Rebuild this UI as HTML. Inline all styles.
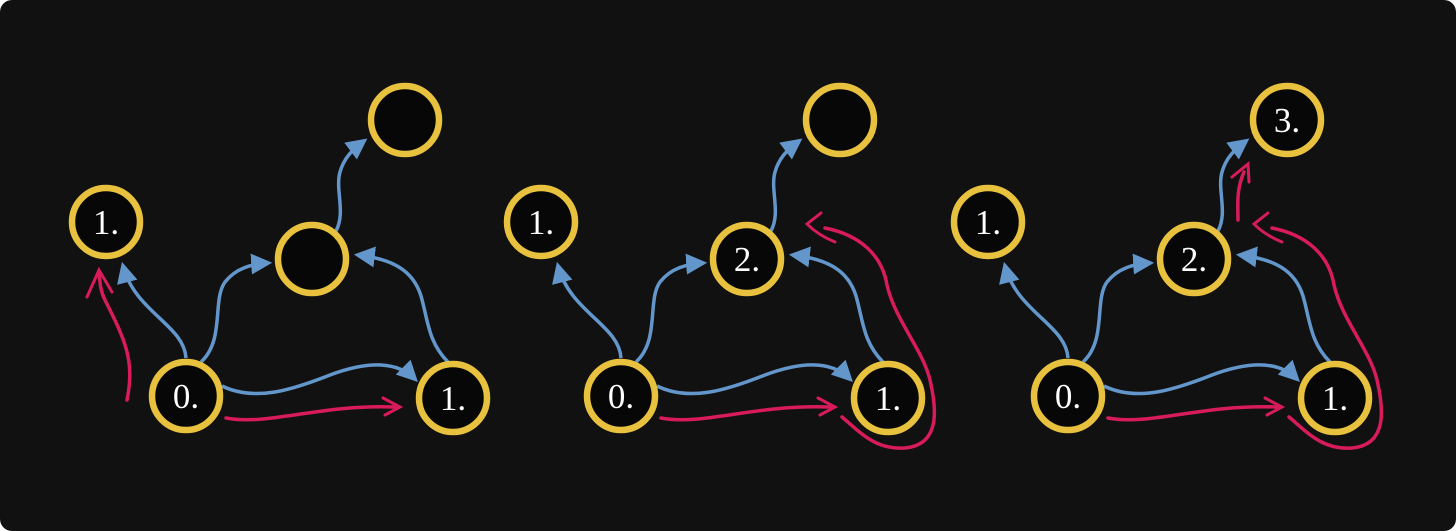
<!DOCTYPE html>
<html><head><meta charset="utf-8">
<style>
html,body{margin:0;padding:0;background:#fff;}
#wrap{width:1456px;height:531px;position:relative;overflow:hidden;}
svg{display:block;}
</style></head>
<body>
<div id="wrap">
<svg width="1456" height="531" viewBox="0 0 1456 531" xmlns="http://www.w3.org/2000/svg">
<defs>
<marker id="ah" viewBox="0 0 10 10" refX="8" refY="5" markerWidth="6" markerHeight="6" orient="auto-start-reverse" markerUnits="strokeWidth">
<path d="M0,0 L10,5 L0,10 z" fill="#6397cc"/>
</marker>
</defs>
<rect x="0" y="0" width="1456" height="531" rx="12" fill="#111111"/>

<g id="p1">
</g>
<g id="p2" transform="translate(435,0)">
</g>
<g id="p3" transform="translate(882,0)">
</g>
</svg>
</div>
<script>
const NS='http://www.w3.org/2000/svg';
const nodes=[
 {id:'left',x:106,y:222},{id:'top',x:405,y:120},{id:'mid',x:312,y:259},
 {id:'zero',x:186,y:396},{id:'right',x:453,y:398}];
const labels=[
 {left:'1.',top:'',mid:'',zero:'0.',right:'1.'},
 {left:'1.',top:'',mid:'2.',zero:'0.',right:'1.'},
 {left:'1.',top:'3.',mid:'2.',zero:'0.',right:'1.'}];
const blue=[
 ['edge-zero-left','M186,358 C184,325 135,312 123,266'],
 ['edge-zero-mid','M201,362 C225,340 212,300 225,282 C236,268 252,264 268,263'],
 ['edge-mid-top','M336,231 C346,212 335,190 340,172 C344,158 352,150 364,141'],
 ['edge-right-mid','M448,362 C428,342 428,320 421,296 C413,270 392,259 358,255'],
 ['edge-zero-right','M222,386 C255,402 292,390 330,375 C370,360 398,362 415,379']];
const redCommon=[
 ['red-stroke-bottom','M226,418 C268,426 320,404 395,407','M383,398 L400,407 L385,415']];
const redLeft=['red-stroke-left','M127,400 C135,360 125,340 105,300 C100,290 100,282 99,272','M87,297 L99,270 L112,292'];
const redLoop=['red-stroke-loop','M407,417 C425,432 440,450 470,448 C505,445 502,410 495,380 C488,350 460,320 452,285 C447,255 425,235 390,228','M386,213 L372,224 C380,232 390,238 400,242'];
const redUp=['red-stroke-up','M356,220 C356,205 354,190 362,172','M350,177 L366,164 L367,182'];
function mk(tag,attrs,parent){const e=document.createElementNS(NS,tag);for(const k in attrs)e.setAttribute(k,attrs[k]);parent.appendChild(e);return e;}
function drawRed(g,r){
 const p=mk('path',{d:r[1],fill:'none',stroke:'#d81b5a','stroke-width':3.5,'stroke-linecap':'round'},g);
 
 
 const c=mk('path',{d:r[2],fill:'none',stroke:'#d81b5a','stroke-width':3,'stroke-linecap':'round','stroke-linejoin':'miter'},g);
 
 
}
['p1','p2','p3'].forEach((pid,i)=>{
 const g=document.getElementById(pid);
 blue.forEach(b=>{
  const p=mk('path',{d:b[1],fill:'none',stroke:'#6397cc','stroke-width':3.5,'marker-end':'url(#ah)'},g);
  
  
 });
 redCommon.forEach(r=>drawRed(g,r));
 if(i===0)drawRed(g,redLeft);
 if(i>0)drawRed(g,redLoop);
 if(i===2)drawRed(g,redUp);
 nodes.forEach(n=>{
  const c=mk('circle',{cx:n.x,cy:n.y,r:34,fill:'#070707',stroke:'#e8c23e','stroke-width':6.5},g);
  
  
  const t=labels[i][n.id];
  if(t){
   const tx=mk('text',{x:n.x,y:n.y+12,'text-anchor':'middle','font-family':'"Liberation Serif",serif','font-size':35,fill:'#ffffff'},g);
   tx.textContent=t;
   
   
  }
 });
});
</script>
</body></html>
